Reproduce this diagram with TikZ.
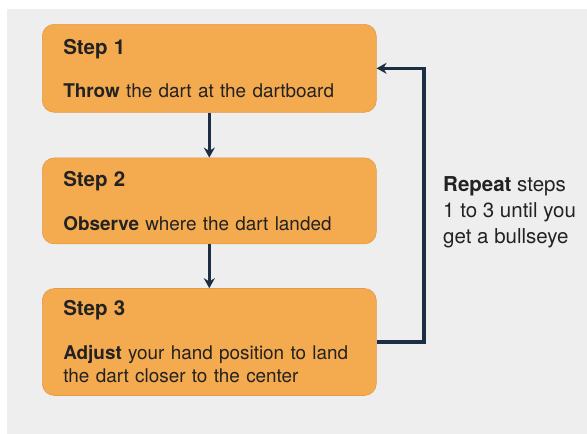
\documentclass[tikz,border=0pt]{standalone}
\usepackage{fontspec}
\setmainfont{TeX Gyre Heros}
\usetikzlibrary{positioning,arrows.meta}
\definecolor{bgGray}{HTML}{EEEEEE}
\definecolor{boxOrange}{HTML}{F4AA4F}
\definecolor{boxEdge}{HTML}{E39B47}
\definecolor{flowNavy}{HTML}{1C2F42}
\definecolor{txtDark}{HTML}{222222}
\newcommand{\steptitle}[1]{{\fontsize{20.5}{23.5}\selectfont\textbf{#1}}}

\begin{document}
\begin{tikzpicture}[x=1pt, y=-1pt,
  stepbox/.style = {rounded corners=12pt, draw=boxEdge, line width=0.6pt,
                    fill=boxOrange, text width=292pt, inner xsep=21pt,
                    inner ysep=0pt, align=left, text=txtDark,
                    font=\fontsize{18.9}{23.5}\selectfont},
  flow/.style    = {draw=flowNavy, line width=3.2pt,
                    -{Stealth[length=10pt,width=11pt]}},
  note/.style    = {anchor=west, inner sep=0pt, align=left, text=txtDark,
                    font=\fontsize{20.5}{26}\selectfont}]

% --- canvas -----------------------------------------------------------
\useasboundingbox (0,0) rectangle (587,434);
\fill[bgGray] (7,9) rectangle (587,434);

% --- steps ------------------------------------------------------------
\node[stepbox, anchor=north west, minimum height=88pt] (s1) at (42,24)
      {\steptitle{Step 1}\\[20pt]\textbf{Throw} the dart at the dartboard};
\node[stepbox, below=45pt of s1, minimum height=86pt] (s2)
      {\steptitle{Step 2}\\[20pt]\textbf{Observe} where the dart landed};
\node[stepbox, below=44pt of s2, minimum height=107pt] (s3)
      {\steptitle{Step 3}\\[20pt]\textbf{Adjust} your hand position to land\\
       the dart closer to the center};

% --- arrows -----------------------------------------------------------
\coordinate (rt) at (424,0);
\draw[flow] (s1) -- (s2);
\draw[flow] (s2) -- (s3);
\draw[flow] (s3.east) -- (s3.east -| rt) |- (s1.east);

% --- annotation -------------------------------------------------------
\node[note] (rep) at (443,212)
      {\textbf{Repeat} steps\\1 to 3 until you\\get a bullseye};
\end{tikzpicture}
\end{document}
